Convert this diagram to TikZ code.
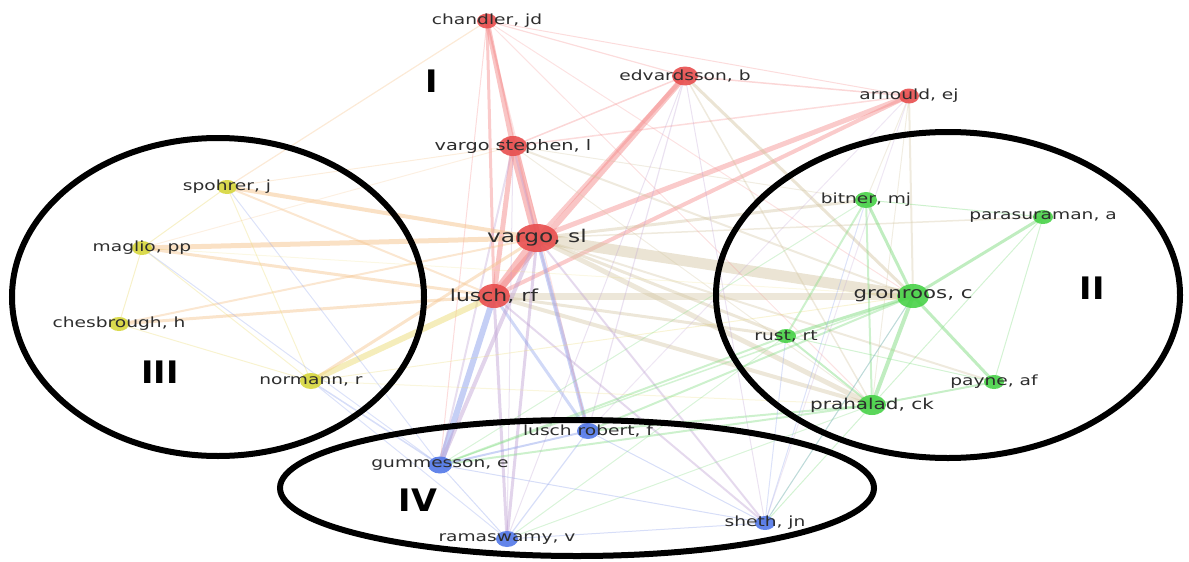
\documentclass[tikz,border=0pt]{standalone}
\usepackage{fontspec}
\setmainfont{DejaVu Sans}
\usetikzlibrary{shapes.geometric,backgrounds}
\definecolor{cred}{RGB}{232,78,78}
\definecolor{cgreen}{RGB}{72,210,72}
\definecolor{cyel}{RGB}{214,214,60}
\definecolor{cblue}{RGB}{82,120,232}
\definecolor{ered}{RGB}{244,140,140}
\definecolor{egreen}{RGB}{130,220,130}
\definecolor{eyel}{RGB}{236,220,120}
\definecolor{eblue}{RGB}{140,160,235}
\definecolor{etan}{RGB}{210,196,160}
\definecolor{eorange}{RGB}{245,195,140}
\definecolor{epurple}{RGB}{190,160,210}
\definecolor{txt}{RGB}{45,45,45}
\newcommand\LB[1]{\scalebox{1.33}[1]{#1}}
\newcommand\NUM[1]{\scalebox{1.08}[1]{#1}}
\newcommand\EDGE[5]{\draw[draw=#3,line width=#4pt,opacity=#5,line cap=round] (#1.center) -- (#2.center);}
\begin{document}
\begin{tikzpicture}[x=1pt,y=-1pt,
  dot/.style={ellipse,draw=none,inner sep=0pt,opacity=0.9},
  lbl/.style={font=\fontsize{14}{14}\selectfont,text=txt,inner sep=0pt},
  num/.style={font=\fontsize{31}{31}\selectfont\bfseries,text=black,inner sep=0pt},
  grp/.style={draw=black,line width=6pt}]
\useasboundingbox (0,0) rectangle (1189,562);
% nodes (circles)
\node[dot,fill=cred,minimum width=20pt,minimum height=15pt] (ch) at (487,21) {};
\node[dot,fill=cred,minimum width=26pt,minimum height=19pt] (ed) at (685,76) {};
\node[dot,fill=cred,minimum width=20pt,minimum height=15pt] (ar) at (909,96) {};
\node[dot,fill=cred,minimum width=28pt,minimum height=20pt] (vst) at (513,146) {};
\node[dot,fill=cred,minimum width=42pt,minimum height=28pt] (vsl) at (537,238) {};
\node[dot,fill=cred,minimum width=32pt,minimum height=24pt] (lrf) at (494,296) {};
\node[dot,fill=cyel,minimum width=20pt,minimum height=14pt] (sp) at (227,187) {};
\node[dot,fill=cyel,minimum width=20pt,minimum height=14pt] (ma) at (142,248) {};
\node[dot,fill=cyel,minimum width=20pt,minimum height=14pt] (chb) at (119,324) {};
\node[dot,fill=cyel,minimum width=22pt,minimum height=16pt] (no) at (311,381) {};
\node[dot,fill=cgreen,minimum width=22pt,minimum height=16pt] (bi) at (866,200) {};
\node[dot,fill=cgreen,minimum width=20pt,minimum height=14pt] (pa) at (1043,217) {};
\node[dot,fill=cgreen,minimum width=32pt,minimum height=24pt] (gr) at (913,296) {};
\node[dot,fill=cgreen,minimum width=20pt,minimum height=14pt] (ru) at (786,336) {};
\node[dot,fill=cgreen,minimum width=20pt,minimum height=14pt] (pay) at (994,382) {};
\node[dot,fill=cgreen,minimum width=28pt,minimum height=20pt] (pr) at (872,405) {};
\node[dot,fill=cblue,minimum width=22pt,minimum height=16pt] (lrob) at (588,431) {};
\node[dot,fill=cblue,minimum width=24pt,minimum height=17pt] (gu) at (440,465) {};
\node[dot,fill=cblue,minimum width=22pt,minimum height=16pt] (ra) at (507,539) {};
\node[dot,fill=cblue,minimum width=20pt,minimum height=14pt] (sh) at (765,523) {};
% edges
\begin{scope}[on background layer]
\EDGE{vsl}{vst}{ered}{9}{0.55}
\EDGE{vsl}{lrf}{ered}{9}{0.55}
\EDGE{ch}{vst}{ered}{5}{0.5}
\EDGE{ch}{lrf}{ered}{3}{0.45}
\EDGE{ch}{vsl}{ered}{2}{0.4}
\EDGE{ed}{lrf}{ered}{6}{0.5}
\EDGE{ed}{vsl}{ered}{4}{0.45}
\EDGE{ed}{vst}{ered}{1.5}{0.35}
\EDGE{ar}{vsl}{ered}{5}{0.45}
\EDGE{ar}{lrf}{ered}{4}{0.45}
\EDGE{ar}{ed}{ered}{1.5}{0.35}
\EDGE{ch}{ed}{ered}{1.2}{0.3}
\EDGE{ch}{ar}{ered}{1}{0.3}
\EDGE{vst}{lrf}{ered}{5}{0.5}
\EDGE{vst}{ar}{ered}{1.5}{0.3}
\EDGE{vsl}{gr}{etan}{11}{0.45}
\EDGE{lrf}{gr}{etan}{7}{0.4}
\EDGE{vsl}{pr}{etan}{5}{0.4}
\EDGE{lrf}{pr}{etan}{4}{0.4}
\EDGE{vsl}{bi}{etan}{3}{0.4}
\EDGE{ed}{gr}{etan}{3}{0.45}
\EDGE{ed}{pr}{etan}{1.5}{0.35}
\EDGE{ar}{gr}{etan}{2}{0.35}
\EDGE{ar}{pr}{etan}{1}{0.3}
\EDGE{ar}{bi}{etan}{1}{0.3}
\EDGE{vsl}{ru}{etan}{3}{0.4}
\EDGE{lrf}{ru}{etan}{3}{0.4}
\EDGE{vsl}{pay}{etan}{2}{0.35}
\EDGE{vsl}{pa}{etan}{1.5}{0.35}
\EDGE{vst}{gr}{etan}{2}{0.35}
\EDGE{vst}{pr}{etan}{1}{0.3}
\EDGE{vst}{bi}{etan}{1}{0.3}
\EDGE{ch}{gr}{ered}{1}{0.25}
\EDGE{ch}{pr}{ered}{1}{0.25}
\EDGE{vsl}{sh}{epurple}{2}{0.4}
\EDGE{lrf}{sh}{epurple}{2}{0.4}
\EDGE{vsl}{ra}{epurple}{3}{0.45}
\EDGE{lrf}{ra}{epurple}{3}{0.45}
\EDGE{vsl}{lrob}{eblue}{4}{0.45}
\EDGE{lrf}{lrob}{eblue}{3}{0.4}
\EDGE{lrf}{gu}{eblue}{6}{0.5}
\EDGE{vsl}{gu}{epurple}{4}{0.45}
\EDGE{vst}{gu}{epurple}{2}{0.35}
\EDGE{vst}{lrob}{epurple}{2}{0.35}
\EDGE{vst}{ra}{epurple}{1}{0.3}
\EDGE{ch}{gu}{ered}{1}{0.3}
\EDGE{ch}{lrob}{ered}{1}{0.25}
\EDGE{ed}{sh}{epurple}{1}{0.3}
\EDGE{ed}{ra}{epurple}{1}{0.3}
\EDGE{ed}{lrob}{epurple}{1.2}{0.3}
\EDGE{ar}{sh}{epurple}{1}{0.25}
\EDGE{ar}{lrob}{epurple}{1}{0.25}
\EDGE{sp}{vsl}{eorange}{4}{0.5}
\EDGE{sp}{lrf}{eorange}{2}{0.4}
\EDGE{ma}{vsl}{eorange}{5}{0.5}
\EDGE{ma}{lrf}{eorange}{3}{0.45}
\EDGE{chb}{vsl}{eorange}{2}{0.4}
\EDGE{chb}{lrf}{eorange}{3}{0.45}
\EDGE{no}{vsl}{eorange}{3}{0.45}
\EDGE{no}{lrf}{eyel}{6}{0.5}
\EDGE{sp}{ma}{eyel}{1}{0.4}
\EDGE{ma}{chb}{eyel}{1}{0.4}
\EDGE{chb}{no}{eyel}{1}{0.35}
\EDGE{ma}{no}{eyel}{1}{0.35}
\EDGE{sp}{no}{eyel}{1}{0.35}
\EDGE{sp}{ch}{eorange}{1.2}{0.35}
\EDGE{sp}{vst}{eorange}{1}{0.3}
\EDGE{ma}{vst}{eorange}{1}{0.25}
\EDGE{no}{gu}{eblue}{1.5}{0.35}
\EDGE{no}{ra}{eblue}{1}{0.3}
\EDGE{ma}{gu}{eblue}{1}{0.3}
\EDGE{sp}{gu}{eblue}{1}{0.3}
\EDGE{no}{gr}{eyel}{1}{0.3}
\EDGE{no}{pr}{eyel}{1}{0.25}
\EDGE{ma}{gr}{eyel}{1}{0.2}
\EDGE{gr}{bi}{egreen}{3}{0.5}
\EDGE{gr}{pa}{egreen}{3}{0.5}
\EDGE{gr}{ru}{egreen}{3}{0.5}
\EDGE{gr}{pay}{egreen}{3}{0.5}
\EDGE{gr}{pr}{egreen}{4}{0.5}
\EDGE{pr}{pay}{egreen}{2}{0.45}
\EDGE{pr}{ru}{egreen}{2}{0.45}
\EDGE{bi}{pa}{egreen}{1}{0.4}
\EDGE{bi}{ru}{egreen}{2}{0.4}
\EDGE{bi}{pr}{egreen}{2}{0.4}
\EDGE{pa}{pay}{egreen}{1}{0.35}
\EDGE{ru}{pay}{egreen}{1}{0.35}
\EDGE{pa}{pr}{egreen}{1}{0.35}
\EDGE{gr}{lrob}{egreen}{2}{0.4}
\EDGE{pr}{lrob}{egreen}{2}{0.4}
\EDGE{ru}{gu}{egreen}{2}{0.4}
\EDGE{pr}{gu}{egreen}{2}{0.4}
\EDGE{gr}{gu}{egreen}{1.5}{0.35}
\EDGE{bi}{gu}{egreen}{1}{0.3}
\EDGE{pr}{sh}{egreen}{1}{0.35}
\EDGE{gr}{sh}{egreen}{1}{0.35}
\EDGE{ru}{ra}{egreen}{1}{0.3}
\EDGE{pr}{ra}{egreen}{1}{0.3}
\EDGE{lrob}{gu}{eblue}{2}{0.45}
\EDGE{gu}{ra}{eblue}{1}{0.35}
\EDGE{lrob}{ra}{eblue}{1.2}{0.35}
\EDGE{lrob}{sh}{eblue}{1}{0.35}
\EDGE{gu}{sh}{eblue}{1}{0.35}
\EDGE{ra}{sh}{eblue}{1}{0.35}
\EDGE{sh}{ru}{eblue}{1}{0.3}
\EDGE{sh}{bi}{eblue}{1}{0.3}
\EDGE{sh}{gr}{eblue}{1}{0.3}
\end{scope}
% labels
\node[lbl] (chL) at (ch) {\LB{chandler, jd}};
\node[lbl] (edL) at (ed) {\LB{edvardsson, b}};
\node[lbl] (arL) at (ar) {\LB{arnould, ej}};
\node[lbl,font=\fontsize{14.5}{14.5}\selectfont] (vstL) at (vst) {\LB{vargo stephen, l}};
\node[lbl,font=\fontsize{17.5}{17.5}\selectfont] (vslL) at (vsl) {\LB{vargo, sl}};
\node[lbl,font=\fontsize{16.5}{16.5}\selectfont] (lrfL) at (lrf) {\LB{lusch, rf}};
\node[lbl] (spL) at (sp) {\LB{spohrer, j}};
\node[lbl] (maL) at (ma) {\LB{maglio, pp}};
\node[lbl] (chbL) at (chb) {\LB{chesbrough, h}};
\node[lbl] (noL) at (no) {\LB{normann, r}};
\node[lbl] (biL) at (bi) {\LB{bitner, mj}};
\node[lbl] (paL) at (pa) {\LB{parasuraman, a}};
\node[lbl,font=\fontsize{16}{16}\selectfont] (grL) at (gr) {\LB{gronroos, c}};
\node[lbl] (ruL) at (ru) {\LB{rust, rt}};
\node[lbl] (payL) at (pay) {\LB{payne, af}};
\node[lbl,font=\fontsize{15}{15}\selectfont] (prL) at (pr) {\LB{prahalad, ck}};
\node[lbl] (lrobL) at (lrob) {\LB{lusch robert, f}};
\node[lbl] (guL) at (gu) {\LB{gummesson, e}};
\node[lbl] (raL) at (ra) {\LB{ramaswamy, v}};
\node[lbl] (shL) at (sh) {\LB{sheth, jn}};
% group outlines
\node[grp,ellipse,minimum width=412pt,minimum height=318pt] (gIII) at (218,297) {};
\node[grp,ellipse,minimum width=464pt,minimum height=326pt] (gII) at (948,295) {};
\node[grp,ellipse,minimum width=594pt,minimum height=136pt] (gIV) at (577,488) {};
% numerals
\node[num] (nI) at (432,81) {\NUM{I}};
\node[num] (nII) at (1092,288) {\NUM{II}};
\node[num] (nIII) at (160,372) {\NUM{III}};
\node[num] (nIV) at (418,500) {\NUM{IV}};
\end{tikzpicture}
\end{document}
